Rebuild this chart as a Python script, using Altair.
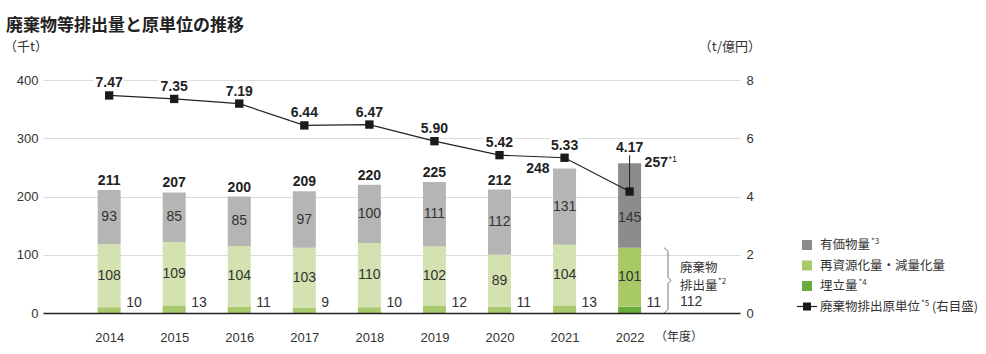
import altair as alt
import pandas as pd

# ---------------- data ----------------
years = [2014, 2015, 2016, 2017, 2018, 2019, 2020, 2021, 2022]
valuables = [93, 85, 85, 97, 100, 111, 112, 131, 145]        # 有価物量
recycled = [108, 109, 104, 103, 110, 102, 89, 104, 101]      # 再資源化量・減量化量
landfill = [10, 13, 11, 9, 10, 12, 11, 13, 11]               # 埋立量
totals = [211, 207, 200, 209, 220, 225, 212, 248, 257]
intensity = [7.47, 7.35, 7.19, 6.44, 6.47, 5.90, 5.42, 5.33, 4.17]  # 廃棄物排出原単位
left_ticks = [0, 100, 200, 300, 400]
right_ticks = [0, 2, 4, 6, 8]
legend_labels = ["有価物量", "再資源化量・減量化量", "埋立量", "廃棄物排出原単位"]
legend_sups = ["*3", "", "*4", "*5"]
title_text = "廃棄物等排出量と原単位の推移"

# ---------------- layout / style ----------------
W, H = 697, 233
OX, OY = 43, 80
NUM = "Liberation Sans, Noto Sans CJK JP"
JP = "Noto Sans CJK JP"
TXT = "#333333"


def px(x):
    return x - OX


def py(y):
    return y - OY


colors_hl = {"landfill": "#6aac3c", "recycled": "#a7c966", "valuables": "#8c8c8c"}
colors_fade = {"landfill": "#a8c96c", "recycled": "#d3e2b0", "valuables": "#b5b6b4"}
legend_colors = [colors_hl["valuables"], colors_hl["recycled"], colors_hl["landfill"]]

df = pd.DataFrame({"year": years, "valuables": valuables, "recycled": recycled,
                   "landfill": landfill, "total": totals, "rate": intensity})
df["zero"] = 0

rows = []
for i, y in enumerate(years):
    base = 0
    pal = colors_hl if y == 2022 else colors_fade
    for seg, arr in [("landfill", landfill), ("recycled", recycled), ("valuables", valuables)]:
        v = arr[i]
        rows.append({"year": y, "seg": seg, "y0": base, "y1": base + v,
                     "mid": base + v / 2, "val": v, "color": pal[seg]})
        base += v
bars_df = pd.DataFrame(rows)

xscale = alt.Scale(domain=[2013.06, 2023.62], nice=False, zero=False)
xaxis = alt.Axis(values=years, format="d", title=None, ticks=False, grid=False,
                 domain=True, domainColor="#222222", domainWidth=1.5,
                 labelPadding=18, labelFontSize=13, labelColor=TXT, labelFont=NUM, zindex=1)
X = alt.X("year:Q", scale=xscale, axis=xaxis)

yL = alt.Scale(domain=[0, 400], nice=False)
yaxisL = alt.Axis(values=left_ticks, title=None, ticks=False, domain=False, grid=True,
                  gridColor="#dcdcdc", gridWidth=1, labelPadding=5, labelFontSize=13,
                  labelColor=TXT, labelFont=NUM)
yR = alt.Scale(domain=[0, 8], nice=False)
yaxisR = alt.Axis(values=right_ticks, orient="right", title=None, ticks=False, domain=False,
                  grid=False, labelPadding=6, labelFontSize=13, labelColor=TXT, labelFont=NUM)


def YL(field):
    return alt.Y(field, scale=yL, axis=yaxisL)


def YR(field):
    return alt.Y(field, scale=yR, axis=yaxisR)


def ptext(text, x, y, size=12, font=JP, align="left", baseline="middle", weight="normal", color=TXT):
    return alt.Chart(pd.DataFrame({"t": [text]})).mark_text(
        font=font, fontSize=size, align=align, baseline=baseline, fontWeight=weight, color=color
    ).encode(x=alt.value(px(x)), y=alt.value(py(y)), text="t:N")


# ---------------- left-scale layers ----------------
bars = alt.Chart(bars_df).mark_bar(size=23).encode(
    x=X, y=YL("y0:Q"), y2="y1:Q", color=alt.Color("color:N", scale=None))

seg_text = alt.Chart(bars_df).transform_filter(
    "datum.seg != 'landfill' && !(datum.seg == 'valuables' && datum.year == 2022)").mark_text(
    font=NUM, fontSize=14, color=TXT, baseline="middle").encode(
    x=X, y=YL("mid:Q"), text="val:Q")
seg_text_2022 = alt.Chart(bars_df).transform_filter(
    "datum.seg == 'valuables' && datum.year == 2022").mark_text(
    font=NUM, fontSize=14, color=TXT, baseline="middle", dy=12).encode(
    x=X, y=YL("mid:Q"), text="val:Q")

land_text = alt.Chart(df).mark_text(
    font=NUM, fontSize=14, color=TXT, align="left", dx=17, dy=-6, baseline="alphabetic").encode(
    x=X, y=YL("zero:Q"), text="landfill:Q")

tot_main = alt.Chart(df).transform_filter("datum.year <= 2020").mark_text(
    font=NUM, fontSize=14, fontWeight="bold", color="#222", baseline="alphabetic", dy=-5).encode(
    x=X, y=YL("total:Q"), text="total:Q")
tot_2021 = alt.Chart(df).transform_filter("datum.year == 2021").mark_text(
    font=NUM, fontSize=14, fontWeight="bold", color="#222", baseline="middle", align="right", dx=-15).encode(
    x=X, y=YL("total:Q"), text="total:Q")
tot_2022 = alt.Chart(df).transform_filter("datum.year == 2022").mark_text(
    font=NUM, fontSize=14, fontWeight="bold", color="#222", baseline="middle", align="left", dx=15).encode(
    x=X, y=YL("total:Q"), text="total:Q")
sup_2022 = alt.Chart(df).transform_filter("datum.year == 2022").transform_calculate(
    s="'*1'").mark_text(font=NUM, fontSize=9, color="#222", baseline="middle", align="left",
                         dx=39, dy=-4).encode(
    x=X, y=YL("total:Q"), text="s:N")

# brace spanning the 2022 waste emission (recycled + landfill)
em = recycled[-1] + landfill[-1]
bx0, bx1, bx2 = 2022.53, 2022.59, 2022.64
brace_df = pd.DataFrame({
    "year": [bx0, bx1, bx1, bx2, bx1, bx1, bx0],
    "v": [em, em - 6, em / 2 + 5, em / 2, em / 2 - 5, 6, 0],
    "o": list(range(7))})
brace = alt.Chart(brace_df).mark_line(color="#777777", strokeWidth=1).encode(
    x=X, y=YL("v:Q"), order="o:Q")

annot = [
    ptext("廃棄物", 680, 268, 12.5),
    ptext("排出量", 680, 286, 12.5),
    ptext("*2", 718, 282, 8),
    ptext(str(em), 680, 302, 14, font=NUM),
    ptext("（年度）", 655, 337, 12),
    ptext(title_text, 6, 31, 17, baseline="alphabetic", weight="bold", color="#222"),
    ptext("（千t）", 4, 47, 13),
    ptext("（t/億円）", 761, 47, 13, align="right"),
]

legend_layers = []
row_y = [245, 265.5, 286, 306.5]
for i in range(3):
    legend_layers.append(
        alt.Chart(pd.DataFrame({"c": [legend_colors[i]]})).mark_point(
            shape="square", filled=True, size=100, opacity=1).encode(
            x=alt.value(px(807)), y=alt.value(py(row_y[i])), color=alt.Color("c:N", scale=None)))
legend_layers.append(
    alt.Chart(pd.DataFrame({"a": [0]})).mark_rule(color="#222", strokeWidth=1.2).encode(
        x=alt.value(px(797)), x2=alt.value(px(817)), y=alt.value(py(row_y[3]))))
legend_layers.append(
    alt.Chart(pd.DataFrame({"a": [0]})).mark_point(
        shape="square", filled=True, size=64, opacity=1, color="#1a1a1a").encode(
        x=alt.value(px(807)), y=alt.value(py(row_y[3]))))
for i, lab in enumerate(legend_labels):
    legend_layers.append(ptext(lab, 820, row_y[i], 12.5))
    if legend_sups[i]:
        legend_layers.append(ptext(legend_sups[i], 820 + 12.5 * len(lab) + 1, row_y[i] - 3, 8))
legend_layers.append(ptext("(右目盛)", 932, row_y[3], 12.5))

left = alt.layer(bars, seg_text, seg_text_2022, land_text, tot_main, tot_2021, tot_2022,
                 sup_2022, brace, *annot, *legend_layers)

# ---------------- right-scale layers ----------------
line = alt.Chart(df).mark_line(color="#222222", strokeWidth=1.2).encode(
    x=X, y=YR("rate:Q"))
pts = alt.Chart(df).mark_point(shape="square", filled=True, size=70, opacity=1,
                               color="#1a1a1a").encode(x=X, y=YR("rate:Q"))
leader = alt.Chart(df).transform_filter("datum.year == 2022").transform_calculate(
    top="datum.rate + 1.25").mark_rule(color="#222", strokeWidth=1).encode(
    x=X, y=YR("rate:Q"), y2="top:Q")


def rate_labels(flt, dy):
    halo = alt.Chart(df).transform_filter(flt).mark_text(
        font=NUM, fontSize=14, fontWeight="bold", color="white", stroke="white",
        strokeWidth=5, baseline="alphabetic", dy=dy).encode(
        x=X, y=YR("rate:Q"), text=alt.Text("rate:Q", format=".2f"))
    lab = alt.Chart(df).transform_filter(flt).mark_text(
        font=NUM, fontSize=14, fontWeight="bold", color="#222", baseline="alphabetic", dy=dy).encode(
        x=X, y=YR("rate:Q"), text=alt.Text("rate:Q", format=".2f"))
    return [halo, lab]


right = alt.layer(line, leader, pts,
                  *rate_labels("datum.year != 2022", -8),
                  *rate_labels("datum.year == 2022", -39.5))

chart = alt.layer(left, right).resolve_scale(y="independent").properties(
    width=W, height=H,
    padding={"left": OX, "top": OY, "right": 986 - OX - W, "bottom": 354 - OY - H},
    autosize=alt.AutoSizeParams(type="none"),
    background="white",
).configure_view(stroke=None)

chart.save("out.html", embed_options={"renderer": "svg", "actions": False})
